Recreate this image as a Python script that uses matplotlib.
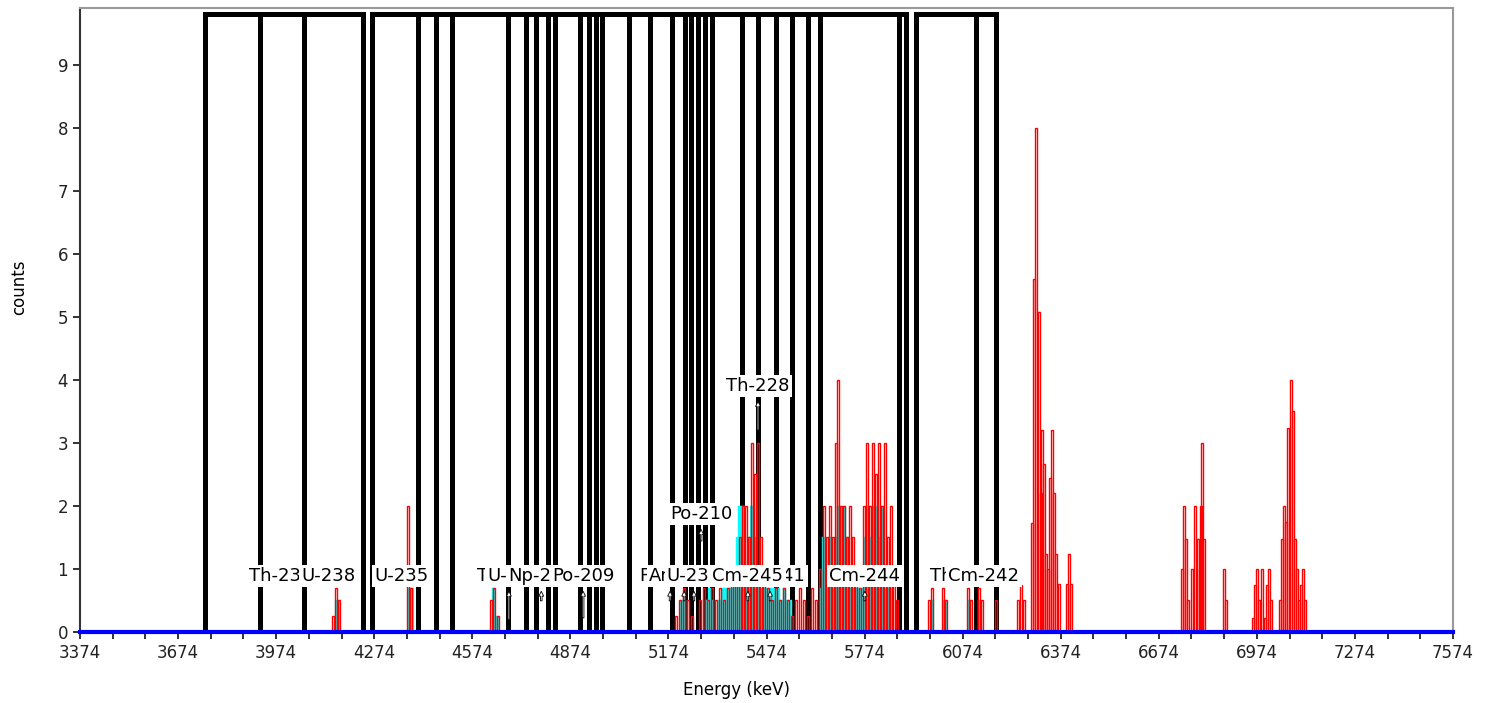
import matplotlib
matplotlib.use('Agg')
import matplotlib.pyplot as plt
from matplotlib.ticker import FixedLocator

# ROI brackets (keV): outer ends and inner boundaries
roi_start = [3756, 4267, 5931]
roi_end = [4240, 5901, 6176]
roi_lines = [3925, 4059,
             4408, 4463, 4512, 4683, 4738, 4769, 4806, 4827, 4904, 4931, 4952, 4971,
             5053, 5118, 5185, 5225, 5243, 5264, 5286, 5307, 5399, 5448, 5503, 5552,
             5601, 5638, 5879,
             6115]

# spectrum (red outline bars)
red_e = [4148, 4157, 4166, 4377, 4387, 4631, 4640, 4653,
         5197, 5209, 5221, 5233, 5246, 5270, 5283, 5295, 5307, 5319, 5332, 5344, 5356,
         5368, 5381, 5393, 5402, 5411, 5420, 5430, 5439, 5448, 5457, 5466, 5479, 5491,
         5503, 5515, 5528, 5540, 5552, 5564, 5576, 5589, 5601, 5613, 5625, 5638, 5650,
         5659, 5668, 5677, 5686, 5693, 5702, 5711, 5720, 5729, 5738, 5748, 5760, 5772,
         5781, 5790, 5799, 5809, 5818, 5827, 5836, 5845, 5855, 5864, 5873,
         5971, 5980, 6014, 6023, 6090, 6100, 6124, 6133, 6176, 6243, 6252, 6261,
         6286, 6292, 6298, 6307, 6313, 6316, 6322, 6329, 6335, 6341, 6347, 6353, 6359,
         6368, 6393, 6399, 6405,
         6745, 6751, 6757, 6763, 6776, 6785, 6794, 6800, 6803, 6806, 6812, 6873, 6879,
         6962, 6968, 6974, 6980, 6990, 6999, 7005, 7011, 7017, 7045, 7051, 7057, 7063,
         7069, 7078, 7084, 7091, 7097, 7103, 7109, 7115, 7121]
red_c = [0.25, 0.7, 0.5, 2.0, 0.7, 0.5, 0.7, 0.25,
         0.25, 0.5, 0.7, 0.5, 0.25, 0.5, 0.7, 0.5, 0.7, 0.5, 0.7, 0.5, 0.7,
         1.0, 1.0, 1.5, 2.0, 2.0, 1.5, 3.0, 2.5, 3.0, 1.5, 1.0, 0.7, 0.5,
         0.7, 0.5, 0.7, 0.5, 0.25, 0.5, 0.7, 0.5, 0.25, 0.7, 0.5, 1.0, 2.0,
         1.5, 2.0, 1.5, 3.0, 4.0, 2.0, 2.0, 1.5, 2.0, 1.5, 1.0, 0.7, 2.0,
         3.0, 2.0, 3.0, 2.5, 3.0, 2.0, 3.0, 1.5, 2.0, 1.0, 0.5,
         0.5, 0.7, 0.7, 0.5, 0.7, 0.5, 0.7, 0.5, 0.5, 0.5, 0.75, 0.5,
         1.73, 5.6, 8.0, 5.07, 2.2, 3.2, 2.67, 1.24, 1.0, 2.45, 3.2, 2.2, 1.24,
         0.76, 0.76, 1.24, 0.76,
         1.0, 2.0, 1.48, 0.5, 1.0, 2.0, 1.48, 1.0, 2.0, 3.0, 1.48, 1.0, 0.5,
         0.22, 0.75, 1.0, 0.5, 1.0, 0.22, 0.75, 1.0, 0.5, 0.5, 1.48, 2.0, 1.75,
         3.24, 4.0, 3.5, 1.48, 1.0, 0.5, 0.75, 1.0, 0.5]

# counts inside ROIs (cyan fill)
cyan_e = [4160, 4166, 4381, 4390, 4640, 4650,
          5215, 5224, 5290, 5299, 5308,
          5330, 5339, 5348, 5357, 5366, 5375, 5384, 5393, 5402, 5411, 5420, 5429,
          5438, 5447, 5456, 5465, 5474, 5483, 5492, 5501, 5510, 5519, 5528, 5537, 5546,
          5641, 5650, 5659, 5668, 5677, 5686, 5695, 5704, 5713, 5722, 5731, 5740,
          5749, 5758, 5767, 5776, 5785, 5794, 5803, 5812, 5821, 5830, 5839, 5848, 5857,
          5983, 6020, 6094, 6127]
cyan_c = [0.5, 0.5, 0.7, 0.7, 0.7, 0.25,
          0.5, 0.5, 0.5, 0.7, 0.5,
          0.5, 0.7, 0.7, 0.7, 0.7, 1.0, 1.5, 2.0, 2.0, 1.0, 1.5, 2.0,
          1.5, 1.0, 0.7, 0.7, 0.7, 0.7, 0.7, 0.7, 0.7, 0.5, 0.7, 0.5, 0.5,
          0.7, 1.5, 0.7, 1.5, 0.7, 1.5, 2.0, 2.0, 2.0, 1.5, 0.7, 0.7,
          0.7, 0.7, 0.7, 1.5, 2.0, 1.5, 2.0, 2.0, 1.5, 2.0, 0.7, 0.7, 0.7,
          0.5, 0.5, 0.5, 0.5]

# nuclide labels: name, energy, label height, arrow tail height
lab_name = ['Th-232', 'U-238', 'U-235', 'Th-230', 'U-234', 'Np-237', 'Po-209',
            'Pa-231', 'Am-243', 'U-233', 'Am-241', 'Cm-245', 'Cm-244', 'Th-227',
            'Cm-242', 'Po-210', 'Th-228']
lab_e = [3989, 4133, 4356, 4686, 4702, 4785, 4913,
         5179, 5222, 5252, 5485, 5417, 5775, 6072,
         6139, 5274, 5448]
lab_y = [0.89, 0.89, 0.89, 0.89, 0.89, 0.89, 0.89,
         0.89, 0.89, 0.89, 0.89, 0.89, 0.89, 0.89,
         0.89, 1.87, 3.90]
arrow_tail = [0.89, 0.89, 0.89, 0.15, 0.89, 0.45, 0.18,
              0.45, 0.45, 0.45, 0.45, 0.45, 0.45, 0.89,
              0.89, 1.40, 3.16]

top = 9.8

fig = plt.figure(figsize=(14.93, 7.03), dpi=100)
ax = fig.add_axes([80/1493, 1-632/703, 1373/1493, 624/703])

for lo, hi in zip(roi_start, roi_end):
    ax.plot([lo, lo, hi, hi], [0, top, top, 0], color='black', lw=3.6,
            solid_joinstyle='miter', zorder=1)
ax.vlines(roi_lines, 0, top, color='black', lw=3.6, zorder=1)

ax.bar(cyan_e, cyan_c, width=9.5, color='#00ffff', edgecolor='#00ffff', lw=0.3, zorder=2)
ax.bar(red_e, red_c, width=6, fill=False, edgecolor='#ff0000', lw=1.0, zorder=3)

for name, e, y, t in zip(lab_name, lab_e, lab_y, arrow_tail):
    if y - t > 0.3:
        ax.annotate('', xy=(e, y - 0.2), xytext=(e, t),
                    arrowprops=dict(arrowstyle='simple,head_length=0.35,head_width=0.35,tail_width=0.12',
                                    fc='white', ec='black', lw=0.6), zorder=4)
    ax.text(e, y, name, ha='center', va='center', fontsize=13, zorder=5,
            bbox=dict(boxstyle='square,pad=0.12', fc='white', ec='none'))

ax.axhline(0, color='#0000ff', lw=3, zorder=6, clip_on=False)

ax.set_xlim(3374, 7574)
ax.set_ylim(0, 9.9)
ax.xaxis.set_major_locator(FixedLocator(range(3374, 7575, 300)))
ax.xaxis.set_minor_locator(FixedLocator(range(3374, 7575, 100)))
ax.set_yticks(range(10))
ax.tick_params(which='both', direction='out', length=5, width=1.3, labelsize=12, colors='#222222')

ax.spines['left'].set_color('#333333')
ax.spines['left'].set_linewidth(1.5)
ax.spines['bottom'].set_color('#0000ff')
ax.spines['bottom'].set_linewidth(1.5)
for s in ['top', 'right']:
    ax.spines[s].set_color('#999999')
    ax.spines[s].set_linewidth(1.5)

ax.set_xlabel('Energy (keV)', fontsize=12)
ax.set_ylabel('counts', fontsize=12)
ax.xaxis.set_label_coords(0.478, -0.078)
ax.yaxis.set_label_coords(-0.038, 0.553)

fig.savefig('out.png', dpi=100)
